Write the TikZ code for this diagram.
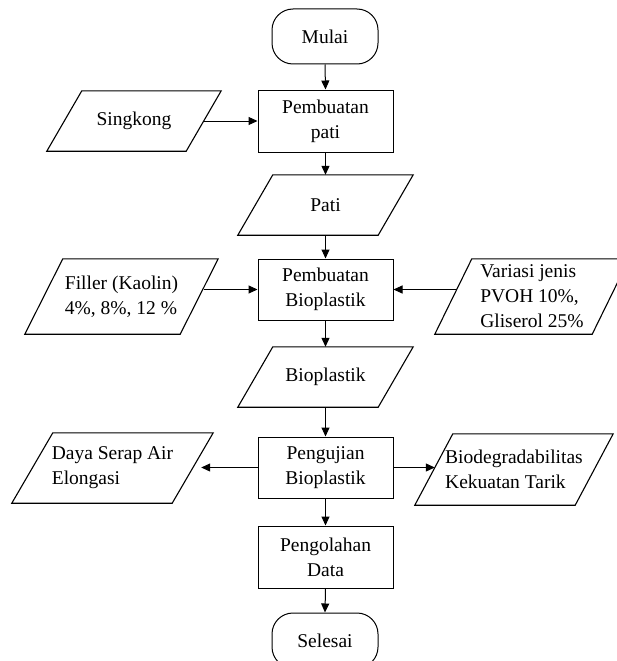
\documentclass[tikz,border=0pt]{standalone}
\usepackage{fontspec}
\setmainfont{Liberation Serif}
\usetikzlibrary{arrows.meta,calc}
\newcommand\drawpara[2]{\draw[shp] ([xshift=#2]#1.north west) -- (#1.north east) -- ([xshift=-#2]#1.south east) -- (#1.south west) -- cycle;}
\begin{document}
\begin{tikzpicture}[x=1pt,y=-1pt,
  every node/.style={font=\fontsize{19.5pt}{25pt}\selectfont, inner sep=0pt},
  proc/.style={draw, line width=1pt, minimum width=135pt, minimum height=62pt, align=center},
  term/.style={draw, line width=1pt, rounded corners=21pt, minimum width=106pt, minimum height=55pt},
  io/.style 2 args={minimum width=#1, minimum height=#2, align=left},
  arr/.style={line width=1pt, -{Triangle[length=9pt,width=8pt]}},
  shp/.style={line width=1.1pt}]
\useasboundingbox (0,0) rectangle (617,661);
\fill[white] (0,0) rectangle (617,661);
\clip (0,0) rectangle (617,661);

\node[term] (mulai) at (325,36.5) {Mulai};
\node[proc] (pp) at (325.5,121) {Pembuatan\\pati};
\node[io={174pt}{60pt}] (sk) at (134,121) {Singkong};
\drawpara{sk}{35pt}
\node[io={175pt}{60pt}] (pati) at (325.5,205) {Pati};
\drawpara{pati}{35pt}
\node[proc, minimum height=61pt] (pb) at (325.5,289.5) {Pembuatan\\Bioplastik};
\node[io={193pt}{75pt}] (filler) at (121.5,296.5) {Filler (Kaolin)\\4\%, 8\%, 12 \%};
\drawpara{filler}{38pt}
\node[io={194pt}{75pt}] (var) at (532,296.5) {Variasi jenis\\PVOH 10\%,\\Gliserol 25\%};
\drawpara{var}{37pt}
\node[io={175pt}{60pt}] (bio) at (325.5,377) {Bioplastik};
\drawpara{bio}{35pt}
\node[proc, minimum height=61pt] (pu) at (325.5,467.5) {Pengujian\\Bioplastik};
\node[io={201pt}{70pt}] (daya) at (112.5,468) {Daya Serap Air\\Elongasi};
\drawpara{daya}{41pt}
\node[io={198pt}{71pt}] (biod) at (514,469.5) {Biodegradabilitas\\Kekuatan Tarik};
\drawpara{biod}{38pt}
\node[proc] (po) at (325.5,557) {Pengolahan\\Data};
\node[term] (sel) at (325,640.5) {Selesai};

\coordinate (ske) at ([xshift=-17.5pt]sk.east);
\coordinate (fe) at ([xshift=-14.6pt]filler.east);
\coordinate (ve) at ([xshift=22pt]var.west);
\coordinate (de) at ([xshift=-12pt]daya.east);
\coordinate (be) at ([xshift=20pt]biod.west);

\draw[arr] (mulai.south) -- (pp.north);
\draw[arr] (ske) -- (pp.west);
\draw[arr] (pp.south) -- (pati.north);
\draw[arr] (pati.south) -- (pb.north);
\draw[arr] (fe |- pb.west) -- (pb.west);
\draw[arr] (ve |- pb.east) -- (pb.east);
\draw[arr] (pb.south) -- (bio.north);
\draw[arr] (bio.south) -- (pu.north);
\draw[arr] (pu.west) -- (de |- pu.west);
\draw[arr] (pu.east) -- (be |- pu.east);
\draw[arr] (pu.south) -- (po.north);
\draw[arr] (po.south) -- (sel.north);
\end{tikzpicture}
\end{document}
